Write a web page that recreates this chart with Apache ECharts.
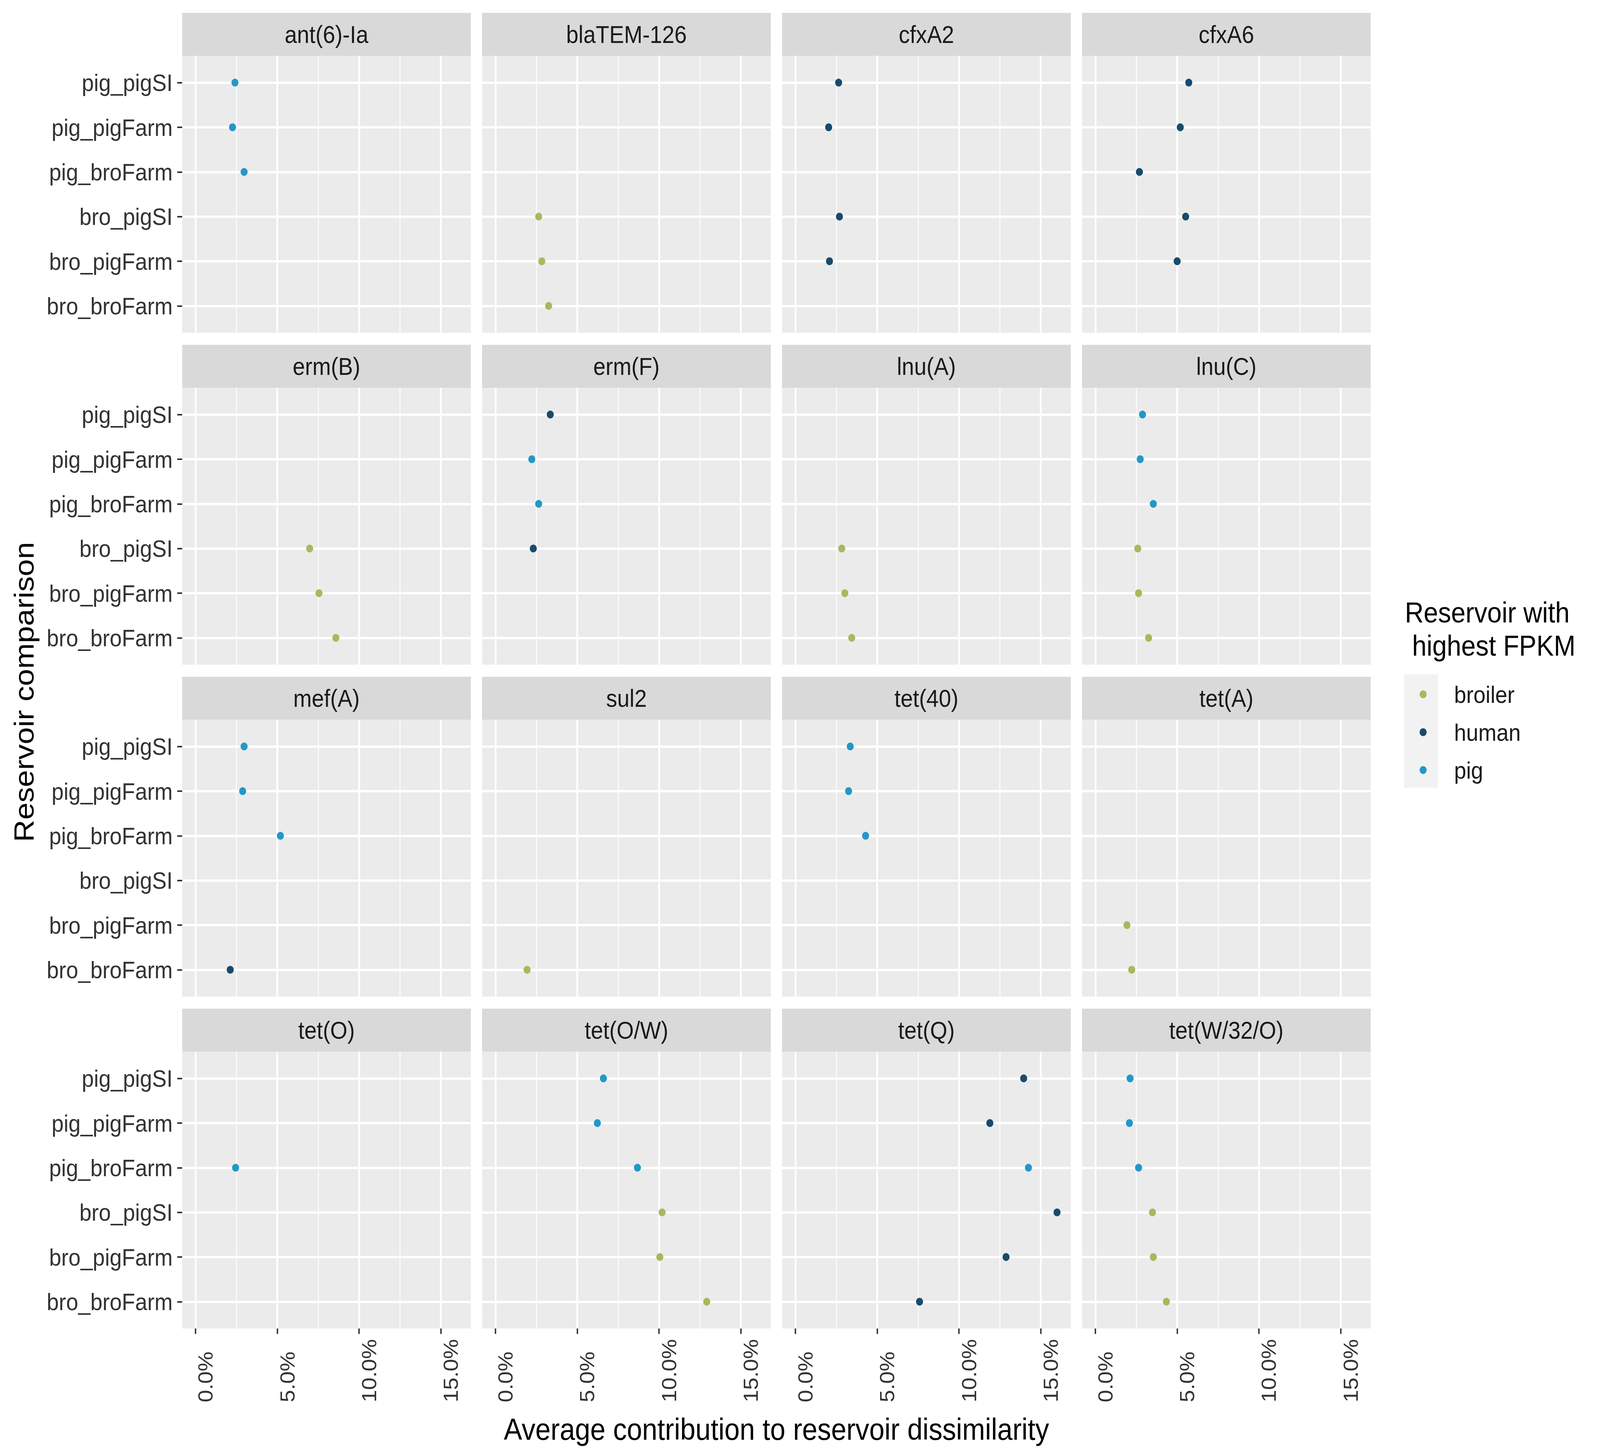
<!DOCTYPE html>
<html>
<head>
<meta charset="utf-8">
<script src="https://cdn.jsdelivr.net/npm/echarts@6/dist/echarts.min.js"></script>
<style>
html, body { margin: 0; padding: 0; background: #fff; overflow: hidden; }
#wrap { position: relative; overflow: hidden; background: #fff; }
#chart { width: 4550px; height: 3726px; transform-origin: 0 0; }
</style>
</head>
<body>
<div id="wrap"><div id="chart"></div></div>
<script>
// facets, rows and legend
const genes = ['ant(6)-Ia', 'blaTEM-126', 'cfxA2', 'cfxA6',
               'erm(B)', 'erm(F)', 'lnu(A)', 'lnu(C)',
               'mef(A)', 'sul2', 'tet(40)', 'tet(A)',
               'tet(O)', 'tet(O/W)', 'tet(Q)', 'tet(W/32/O)'];
const comparisons = ['pig_pigSI', 'pig_pigFarm', 'pig_broFarm', 'bro_pigSI', 'bro_pigFarm', 'bro_broFarm'];
const reservoirs = ['broiler', 'human', 'pig'];
const reservoirColors = ['#a7b95e', '#184b6b', '#2398c6'];
const xTicks = [0, 5, 10, 15];
const xMinorTicks = [2.5, 7.5, 12.5];
const yTicks = [0, 1, 2, 3, 4, 5];

// average contribution (%) per comparison, and reservoir with highest FPKM
const ant6Ia = [2.41, 2.26, 2.97, null, null, null];
const ant6IaRes = ['pig', 'pig', 'pig', null, null, null];
const blaTEM126 = [null, null, null, 2.64, 2.83, 3.25];
const blaTEM126Res = [null, null, null, 'broiler', 'broiler', 'broiler'];
const cfxA2 = [2.64, 2.03, null, 2.69, 2.08, null];
const cfxA2Res = ['human', 'human', null, 'human', 'human', null];
const cfxA6 = [5.71, 5.19, 2.69, 5.52, 5.0, null];
const cfxA6Res = ['human', 'human', 'human', 'human', 'human', null];
const ermB = [null, null, null, 6.98, 7.55, 8.58];
const ermBRes = [null, null, null, 'broiler', 'broiler', 'broiler'];
const ermF = [3.35, 2.22, 2.64, 2.31, null, null];
const ermFRes = ['human', 'pig', 'pig', 'human', null, null];
const lnuA = [null, null, null, 2.83, 3.02, 3.44];
const lnuARes = [null, null, null, 'broiler', 'broiler', 'broiler'];
const lnuC = [2.88, 2.74, 3.54, 2.59, 2.64, 3.25];
const lnuCRes = ['pig', 'pig', 'pig', 'broiler', 'broiler', 'broiler'];
const mefA = [2.97, 2.88, 5.19, null, null, 2.12];
const mefARes = ['pig', 'pig', 'pig', null, null, 'human'];
const sul2 = [null, null, null, null, null, 1.93];
const sul2Res = [null, null, null, null, null, 'broiler'];
const tet40 = [3.35, 3.25, 4.29, null, null, null];
const tet40Res = ['pig', 'pig', 'pig', null, null, null];
const tetA = [null, null, null, null, 1.93, 2.22];
const tetARes = [null, null, null, null, 'broiler', 'broiler'];
const tetO = [null, null, 2.45, null, null, null];
const tetORes = [null, null, 'pig', null, null, null];
const tetOW = [6.6, 6.23, 8.68, 10.19, 10.05, 12.92];
const tetOWRes = ['pig', 'pig', 'pig', 'broiler', 'broiler', 'broiler'];
const tetQ = [13.96, 11.89, 14.25, 16.0, 12.88, 7.59];
const tetQRes = ['human', 'human', 'pig', 'human', 'human', 'human'];
const tetW32O = [2.12, 2.08, 2.64, 3.49, 3.54, 4.34];
const tetW32ORes = ['pig', 'pig', 'pig', 'broiler', 'broiler', 'broiler'];

const geneValues = [ant6Ia, blaTEM126, cfxA2, cfxA6, ermB, ermF, lnuA, lnuC,
                    mefA, sul2, tet40, tetA, tetO, tetOW, tetQ, tetW32O];
const geneReservoirs = [ant6IaRes, blaTEM126Res, cfxA2Res, cfxA6Res, ermBRes, ermFRes, lnuARes, lnuCRes,
                        mefARes, sul2Res, tet40Res, tetARes, tetORes, tetOWRes, tetQRes, tetW32ORes];

// the chart is laid out at 4550x3726 and stretched to fill the real window
// (the browser caps the window width, so it may be narrower than asked)
const W = 4550, H = 3726;
const sx = window.innerWidth / W, sy = window.innerHeight / H;
const wrap = document.getElementById('wrap');
const dom = document.getElementById('chart');
wrap.style.width = window.innerWidth + 'px';
wrap.style.height = window.innerHeight + 'px';
dom.style.transform = 'scale(' + sx + ',' + sy + ')';

const FONT = '"Liberation Sans", Arial, sans-serif';
const panelW = 821, stripH = 110, plotH = 709;
const colLeft = c => 518 + c * 853;
const rowTop = r => 33 + r * 850;

const grids = [], xAxes = [], yAxes = [], series = [], graphics = [];

genes.forEach((gene, i) => {
  const col = i % 4, row = Math.floor(i / 4);
  const left = colLeft(col), top = rowTop(row);

  grids.push({
    left: left, top: top + stripH, width: panelW, height: plotH,
    show: true, backgroundColor: '#ebebeb', borderWidth: 0, containLabel: false
  });

  // strip header
  graphics.push({
    type: 'rect', z: 1,
    shape: { x: left, y: top, width: panelW, height: stripH },
    style: { fill: '#d9d9d9' }
  });
  graphics.push({
    type: 'text', z: 2, x: left + panelW / 2, y: top + stripH / 2,
    style: { text: gene, fontSize: 63, fontFamily: FONT, fill: '#1a1a1a', align: 'center', verticalAlign: 'middle' }
  });

  // major x axis
  xAxes.push({
    gridIndex: i, type: 'value', min: -0.82, max: 16.84, position: 'bottom',
    axisLine: { show: false, onZero: false },
    axisTick: { show: row === 3, customValues: xTicks, length: 14, lineStyle: { color: '#333', width: 4 } },
    axisLabel: {
      show: row === 3, customValues: xTicks, formatter: v => v.toFixed(1) + '%',
      rotate: 90, align: 'left', verticalAlign: 'top', margin: 189,
      fontSize: 57, fontFamily: FONT, color: '#333'
    },
    splitLine: { show: true, lineStyle: { color: '#ffffff', width: 5 } }
  });
  // minor x grid lines
  xAxes.push({
    gridIndex: i, type: 'value', min: -0.82, max: 16.84, position: 'top',
    axisLine: { show: false, onZero: false },
    axisTick: { show: false, customValues: xMinorTicks },
    axisLabel: { show: false, customValues: xMinorTicks },
    splitLine: { show: true, lineStyle: { color: '#ffffff', width: 2.5 } }
  });

  yAxes.push({
    gridIndex: i, type: 'value', inverse: true, min: -0.6, max: 5.6, position: 'left',
    axisLine: { show: false, onZero: false },
    axisTick: { show: col === 0, customValues: yTicks, length: 14, lineStyle: { color: '#333', width: 4 } },
    axisLabel: {
      show: col === 0, customValues: yTicks, formatter: v => comparisons[v],
      margin: 27, fontSize: 62, fontFamily: FONT, color: '#333'
    },
    splitLine: { show: true, lineStyle: { color: '#ffffff', width: 6 } }
  });

  reservoirs.forEach((res, k) => {
    const pts = [];
    geneValues[i].forEach((v, j) => {
      if (v !== null && geneReservoirs[i][j] === res) pts.push([v, j]);
    });
    series.push({
      name: res, type: 'scatter', xAxisIndex: 2 * i, yAxisIndex: i,
      symbol: 'circle', symbolSize: 20, z: 5,
      itemStyle: { color: reservoirColors[k], opacity: 1 },
      data: pts
    });
  });
});

// legend key background and titles
graphics.push({
  type: 'rect', z: 0,
  shape: { x: 3993, y: 1727, width: 96, height: 290 },
  style: { fill: '#f2f2f2' }
});
graphics.push({
  type: 'text', x: 3995, y: 1611,
  style: { text: 'Reservoir with\n highest FPKM', fontSize: 74, lineHeight: 85, fontFamily: FONT, fill: '#000', align: 'left', verticalAlign: 'middle' }
});
graphics.push({
  type: 'text', x: 2208, y: 3660,
  style: { text: 'Average contribution to reservoir dissimilarity', fontSize: 78, fontFamily: FONT, fill: '#000', align: 'center', verticalAlign: 'middle' }
});
graphics.push({
  type: 'text', x: 68, y: 1772, rotation: Math.PI / 2,
  style: { text: 'Reservoir comparison', fontSize: 79, fontFamily: FONT, fill: '#000', align: 'center', verticalAlign: 'middle' }
});

const chart = echarts.init(dom, null, { renderer: 'svg', width: W, height: H });
chart.setOption({
  animation: false,
  backgroundColor: '#ffffff',
  textStyle: { fontFamily: FONT },
  grid: grids,
  xAxis: xAxes,
  yAxis: yAxes,
  legend: {
    data: reservoirs, orient: 'vertical', left: 4032, top: 1742,
    icon: 'circle', itemWidth: 20, itemHeight: 20, itemGap: 35,
    selectedMode: false, z: 3,
    textStyle: { fontSize: 62, lineHeight: 62, fontFamily: FONT, color: '#1a1a1a', padding: [0, 0, 0, 73] }
  },
  graphic: { elements: graphics },
  series: series
});
</script>
</body>
</html>
